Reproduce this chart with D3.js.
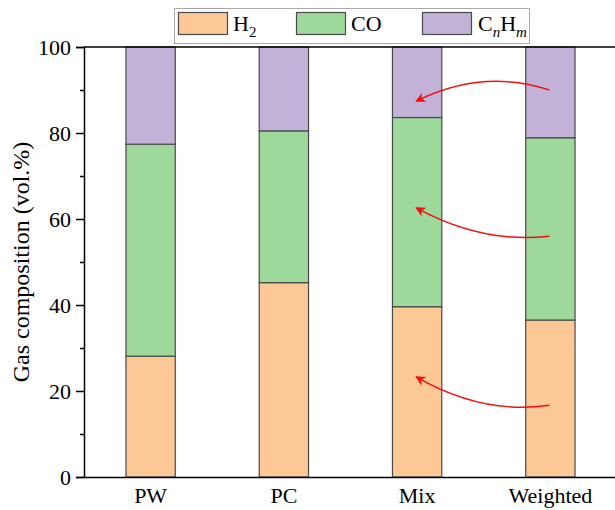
<!DOCTYPE html>
<html>
<head>
<meta charset="utf-8">
<script src="https://cdn.jsdelivr.net/npm/d3@7"></script>
<style>
  body { margin: 0; background: #fff; }
  svg { display: block; overflow: hidden; }
  text { font-family: "Liberation Serif", "Times New Roman", serif; fill: #000; }
</style>
</head>
<body>
<svg id="chart" width="615" height="510"></svg>
<script>
// samples along x
var samples = ["PW", "PC", "Mix", "Weighted"];
// gas fractions, vol.%
var h2 = [28.1, 45.2, 39.6, 36.5];
var co = [49.3, 35.3, 44.0, 42.4];
var cnhm = [22.6, 19.5, 16.4, 21.1];
var yTicks = [0, 20, 40, 60, 80, 100];
var yMinor = [10, 30, 50, 70, 90];

// red annotation arrows (values in vol.%): start on Weighted, end on Mix
var arrowFrom = [90.0, 56.0, 16.7];
var arrowTo = [87.4, 62.6, 23.3];
var arrowCtrl = [95.1, 54.2, 14.4];

var keys = ["H2", "CO", "CnHm"];
var colors = { H2: "#fcc896", CO: "#9fd89b", CnHm: "#c2b2d7" };

var rows = samples.map(function (s, i) {
  return { sample: s, H2: h2[i], CO: co[i], CnHm: cnhm[i] };
});

var svg = d3.select("#chart");
var plotLeft = 84, plotTop = 47, plotBottom = 477, plotRight = 617;

var x = d3.scaleBand().domain(samples).range([plotLeft, plotRight])
  .paddingInner(0.63).paddingOuter(0.315);
var y = d3.scaleLinear().domain([0, 100]).range([plotBottom, plotTop]);

var stack = d3.stack().keys(keys)(rows);

// bars
svg.append("g").selectAll("g")
  .data(stack)
  .enter().append("g")
  .attr("fill", function (d) { return colors[d.key]; })
  .selectAll("rect")
  .data(function (d) { return d; })
  .enter().append("rect")
  .attr("x", function (d) { return x(d.data.sample); })
  .attr("y", function (d) { return y(d[1]); })
  .attr("width", x.bandwidth())
  .attr("height", function (d) { return y(d[0]) - y(d[1]); })
  .attr("stroke", "#4a4a4a")
  .attr("stroke-width", 1.2);

// frame top line
svg.append("line")
  .attr("x1", plotLeft).attr("x2", plotRight)
  .attr("y1", plotTop).attr("y2", plotTop)
  .attr("stroke", "#000").attr("stroke-width", 1.5);

// y axis
var yAxis = svg.append("g")
  .attr("transform", "translate(" + plotLeft + ",0)")
  .call(d3.axisLeft(y).tickValues(yTicks).tickSize(8).tickPadding(5).tickFormat(d3.format("d")));
yAxis.select(".domain").attr("stroke-width", 1.5);
yAxis.selectAll(".tick line").attr("stroke-width", 1.5);
yAxis.selectAll("text").style("font-size", "22px").style("font-family", "Liberation Serif");

var yAxisMinor = svg.append("g")
  .attr("transform", "translate(" + plotLeft + ",0)")
  .call(d3.axisLeft(y).tickValues(yMinor).tickSize(4).tickFormat(""));
yAxisMinor.select(".domain").remove();
yAxisMinor.selectAll(".tick line").attr("stroke-width", 1.5);

// x axis
var xAxis = svg.append("g")
  .attr("transform", "translate(0," + plotBottom + ")")
  .call(d3.axisBottom(x).tickSize(0).tickPadding(10));
xAxis.select(".domain").attr("stroke-width", 1.5);
xAxis.selectAll("text").style("font-size", "22px").style("font-family", "Liberation Serif");

// y label
svg.append("text")
  .attr("transform", "translate(29," + (plotTop + plotBottom) / 2 + ") rotate(-90)")
  .attr("text-anchor", "middle")
  .style("font-size", "24px")
  .text("Gas composition (vol.%)");

// arrows
var defs = svg.append("defs");
defs.append("marker")
  .attr("id", "head")
  .attr("viewBox", "0 0 10 10")
  .attr("refX", 9).attr("refY", 5)
  .attr("markerWidth", 12).attr("markerHeight", 10)
  .attr("markerUnits", "userSpaceOnUse")
  .attr("orient", "auto")
  .append("path")
  .attr("d", "M0,0 L10,5 L0,10 L3,5 Z")
  .attr("fill", "#f01010");

var xs = x("Weighted") + x.bandwidth() / 2 - 1;
var xe = x("Mix") + x.bandwidth() / 2 - 1;
arrowFrom.forEach(function (v, i) {
  var p = d3.path();
  p.moveTo(xs, y(v));
  p.quadraticCurveTo((xs + xe) / 2, y(arrowCtrl[i]), xe, y(arrowTo[i]));
  svg.append("path")
    .attr("d", p.toString())
    .attr("fill", "none")
    .attr("stroke", "#f01010")
    .attr("stroke-width", 1.4)
    .attr("marker-end", "url(#head)");
});

// legend
var lg = svg.append("g");
lg.append("rect")
  .attr("x", 174.5).attr("y", 8.5).attr("width", 355).attr("height", 35)
  .attr("fill", "#fff").attr("stroke", "#aaa").attr("stroke-width", 1);

var legendX = [178, 296, 422];
keys.forEach(function (k, i) {
  lg.append("rect")
    .attr("x", legendX[i] + 0.5).attr("y", 12.5)
    .attr("width", 49).attr("height", 22)
    .attr("fill", colors[k]).attr("stroke", "#4a4a4a").attr("stroke-width", 1.2);
});

function legendText(xp) {
  return lg.append("text").attr("x", xp).attr("y", 31).style("font-size", "22px");
}
var t1 = legendText(legendX[0] + 55);
t1.append("tspan").text("H");
t1.append("tspan").attr("dy", 6).style("font-size", "15px").text("2");

legendText(legendX[1] + 55).text("CO");

var t3 = legendText(legendX[2] + 56);
t3.append("tspan").text("C");
t3.append("tspan").attr("dy", 6).style("font-size", "15px").style("font-style", "italic").text("n");
t3.append("tspan").attr("dy", -6).text("H");
t3.append("tspan").attr("dy", 6).style("font-size", "15px").style("font-style", "italic").text("m");
</script>
</body>
</html>
